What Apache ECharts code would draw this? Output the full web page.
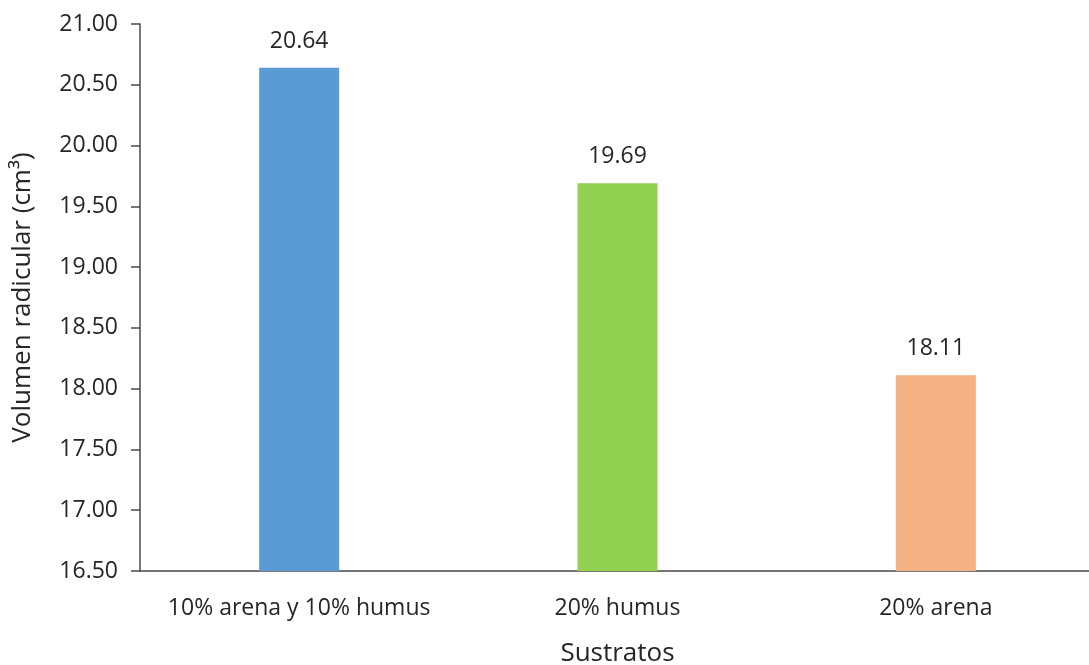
<!DOCTYPE html>
<html>
<head>
<meta charset="utf-8">
<script src="https://cdn.jsdelivr.net/npm/echarts@6/dist/echarts.min.js"></script>
<style>
  html, body { margin: 0; padding: 0; background: #ffffff; }
  #chart { width: 1089px; height: 665px; }
</style>
</head>
<body>
<div id="chart"></div>
<script>
// Root volume by substrate mix
const categories = ['10% arena y 10% humus', '20% humus', '20% arena'];
const volumes = [20.64, 19.69, 18.11];
const barColors = ['#5B9BD5', '#92D050', '#F4B183'];

const FONT = '"Open Sans", "Noto Sans", sans-serif';
const TEXT = '#262626';
const AXIS = '#4a4a4a';

const chart = echarts.init(document.getElementById('chart'), null, { renderer: 'canvas' });

chart.setOption({
  animation: false,
  backgroundColor: '#ffffff',
  grid: {
    left: 140, right: -6, top: 24, bottom: 94,
    containLabel: false,
    outerBoundsMode: 'none'
  },
  xAxis: {
    type: 'category',
    data: categories,
    name: 'Sustratos',
    nameLocation: 'middle',
    nameGap: 70,
    nameTextStyle: { fontFamily: FONT, fontSize: 26, color: TEXT },
    axisLine: { lineStyle: { color: AXIS, width: 1.5 } },
    axisTick: { show: false },
    axisLabel: { interval: 0, fontFamily: FONT, fontSize: 23, color: TEXT, margin: 26 }
  },
  yAxis: {
    type: 'value',
    min: 16.5,
    max: 21,
    interval: 0.5,
    name: 'Volumen radicular (cm³)',
    nameLocation: 'middle',
    nameGap: 104,
    nameTextStyle: { fontFamily: FONT, fontSize: 26, color: TEXT },
    axisLine: { show: true, lineStyle: { color: AXIS, width: 1.5 } },
    axisTick: { show: true, inside: false, length: 9, lineStyle: { color: AXIS, width: 1.5 } },
    splitLine: { show: false },
    axisLabel: {
      fontFamily: FONT, fontSize: 23, color: TEXT, margin: 22,
      formatter: v => v.toFixed(2)
    }
  },
  series: [{
    type: 'bar',
    barWidth: 80,
    data: volumes.map((v, i) => ({ value: v, itemStyle: { color: barColors[i] } })),
    label: {
      show: true,
      position: 'top',
      distance: 15,
      fontFamily: FONT,
      fontSize: 23,
      color: TEXT,
      formatter: p => p.value.toFixed(2)
    }
  }]
});
</script>
</body>
</html>
